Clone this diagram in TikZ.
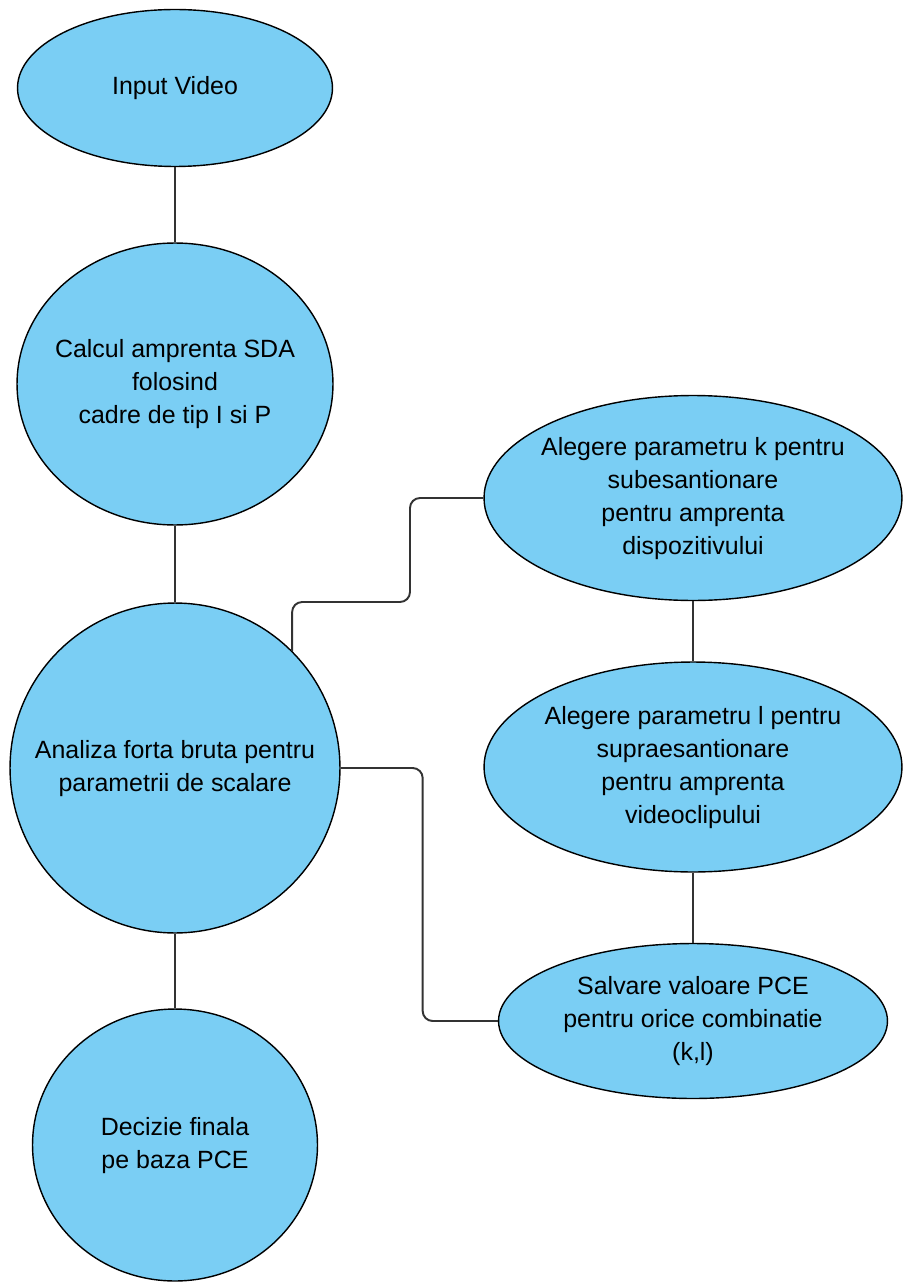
\documentclass[tikz,border=0pt]{standalone}
\usepackage{fontspec}
\setmainfont{Liberation Sans}
\usepackage{xcolor}
\usepackage{tikz}
\usetikzlibrary{shapes.geometric, positioning}

\definecolor{ovalblue}{RGB}{122,206,244}
\newcommand{\ovaltext}[1]{\makebox[0pt]{\begin{tabular}{@{}c@{}}#1\end{tabular}}}

\begin{document}
\begin{tikzpicture}[
    x=0.02cm, y=-0.02cm,
    oval/.style={ellipse, draw, fill=ovalblue, line width=0.8pt, inner sep=0pt,
                 font=\fontsize{14.2pt}{18.8pt}\selectfont},
    link/.style={line width=1.1pt, draw=black!80, rounded corners=0.2cm}
]
    \useasboundingbox (0,0) rectangle (902,1283);

    % left column
    \node[oval, minimum width=6.3cm, minimum height=3.14cm] (video) at (175,88) {\ovaltext{Input Video}};
    \node[oval, minimum width=6.32cm, minimum height=5.64cm] (calcul) at (175,384) {\ovaltext{Calcul amprenta SDA\\ folosind\\ cadre de tip I si P}};
    \node[oval, minimum width=6.6cm, minimum height=6.6cm] (analiza) at (175,768) {\ovaltext{Analiza forta bruta pentru\\ parametrii de scalare}};
    \node[oval, minimum width=5.7cm, minimum height=5.44cm] (decizie) at (175,1145) {\ovaltext{Decizie finala\\ pe baza PCE}};

    % right column
    \node[oval, minimum width=8.36cm, minimum height=4.1cm] (alegk) at (693,498) {\ovaltext{Alegere parametru k pentru\\ subesantionare\\ pentru amprenta\\ dispozitivului}};
    \node[oval, minimum width=8.36cm, minimum height=4.2cm] (alegl) at (693,767) {\ovaltext{Alegere parametru l pentru\\ supraesantionare\\ pentru amprenta\\ videoclipului}};
    \node[oval, minimum width=7.78cm, minimum height=3.1cm] (salvare) at (693,1021) {\ovaltext{Salvare valoare PCE\\ pentru orice combinatie\\ (k,l)}};

    \draw[link] (video) -- (calcul);
    \draw[link] (calcul) -- (analiza);
    \draw[link] (analiza) -- (decizie);
    \draw[link] (alegk) -- (alegl);
    \draw[link] (alegl) -- (salvare);
    \draw[link] (analiza.45) |- (410,602) |- (alegk.west);
    \draw[link] (analiza.east) -- ++(82,0) |- (salvare.west);
\end{tikzpicture}
\end{document}
